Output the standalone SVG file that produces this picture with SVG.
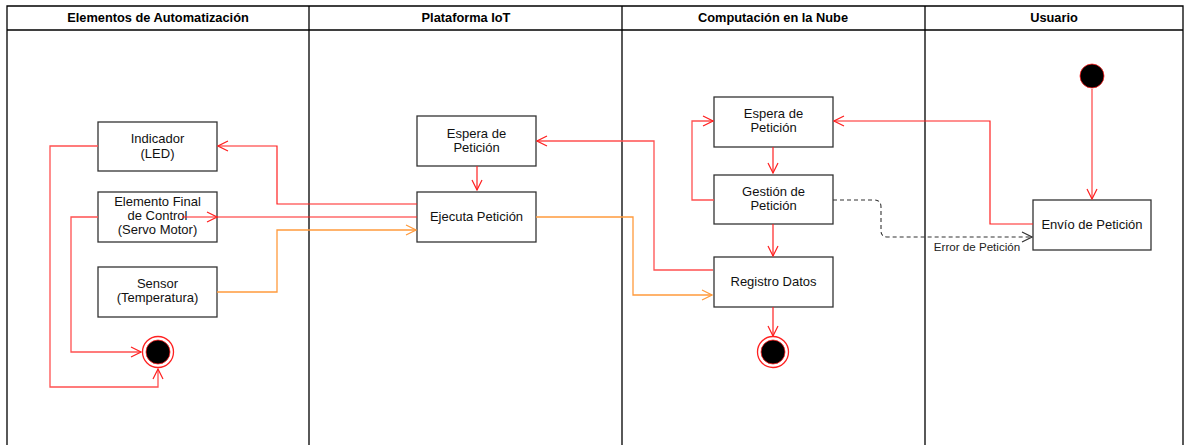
<svg xmlns="http://www.w3.org/2000/svg" width="1186" height="445" viewBox="0 0 1186 445">
  <style>
    .lane { fill: none; stroke: #000; stroke-width: 1.3; }
    .hdr { font-family: "Liberation Sans", Arial, sans-serif; font-size: 12.8px; font-weight: bold; fill: #000; text-anchor: middle; }
    .box { fill: #fff; stroke: #333; stroke-width: 1.3; }
    .lbl { font-family: "Liberation Sans", Arial, sans-serif; font-size: 13px; fill: #111; text-anchor: middle; }
    .small { font-family: "Liberation Sans", Arial, sans-serif; font-size: 11.6px; fill: #222; text-anchor: middle; }
    .red { fill: none; stroke: #ff2020; stroke-width: 1.2; }
    .pink { fill: none; stroke: #ff5050; stroke-width: 1.3; }
    .orange { fill: none; stroke: #ff9a3c; stroke-width: 1.3; }
    .dash { fill: none; stroke: #333; stroke-width: 1.1; stroke-dasharray: 4 3; }
  </style>
  <defs>
    <marker id="arrRed" viewBox="0 0 12 12" refX="11" refY="6" markerWidth="12" markerHeight="12" markerUnits="userSpaceOnUse" orient="auto">
      <path d="M1,1 L11,6 L1,11" fill="none" stroke="#ff2020" stroke-width="1.2"/>
    </marker>
    <marker id="arrOrange" viewBox="0 0 12 12" refX="11" refY="6" markerWidth="12" markerHeight="12" markerUnits="userSpaceOnUse" orient="auto">
      <path d="M1,1 L11,6 L1,11" fill="none" stroke="#ff9a3c" stroke-width="1.2"/>
    </marker>
    <marker id="arrDark" viewBox="0 0 12 12" refX="11" refY="6" markerWidth="12" markerHeight="12" markerUnits="userSpaceOnUse" orient="auto">
      <path d="M1,1 L11,6 L1,11" fill="none" stroke="#333" stroke-width="1.2"/>
    </marker>
  </defs>

  <rect width="1186" height="445" fill="#fff"/>

  <!-- swimlanes -->
  <g id="lanes">
    <path class="lane" d="M7,445 V6 H1183 V445 M7,30 H1183 M309,6 V445 M622,6 V445 M925,6 V445"/>
    <text class="hdr" x="158" y="22">Elementos de Automatización</text>
    <text class="hdr" x="466" y="22">Plataforma IoT</text>
    <text class="hdr" x="773" y="22">Computación en la Nube</text>
    <text class="hdr" x="1054" y="22">Usuario</text>
  </g>

  <!-- Elementos de Automatización -->
  <g id="indicador">
    <rect class="box" x="98" y="122" width="119" height="49"/>
    <text class="lbl" x="157.5" y="143">Indicador</text>
    <text class="lbl" x="157.5" y="158">(LED)</text>
  </g>
  <g id="elemento-final">
    <rect class="box" x="98" y="192" width="119" height="50"/>
    <text class="lbl" x="157.5" y="206">Elemento Final</text>
    <text class="lbl" x="157.5" y="220">de Control</text>
    <text class="lbl" x="157.5" y="234">(Servo Motor)</text>
  </g>
  <g id="sensor">
    <rect class="box" x="98" y="267" width="119" height="50"/>
    <text class="lbl" x="157.5" y="288">Sensor</text>
    <text class="lbl" x="157.5" y="302">(Temperatura)</text>
  </g>
  <g id="final-automatizacion">
    <circle cx="158" cy="352" r="15.5" fill="#fff" stroke="#ff2020" stroke-width="1.3"/>
    <circle cx="158" cy="352" r="12" fill="#000" stroke="#ff2020" stroke-width="0.8"/>
  </g>

  <!-- Plataforma IoT -->
  <g id="espera-iot">
    <rect class="box" x="417" y="116" width="119" height="50"/>
    <text class="lbl" x="476.5" y="138">Espera de</text>
    <text class="lbl" x="476.5" y="152">Petición</text>
  </g>
  <g id="ejecuta">
    <rect class="box" x="417" y="192" width="119" height="50"/>
    <text class="lbl" x="476.5" y="221">Ejecuta Petición</text>
  </g>

  <!-- Computación en la Nube -->
  <g id="espera-nube">
    <rect class="box" x="714" y="97" width="119" height="50"/>
    <text class="lbl" x="773.5" y="118">Espera de</text>
    <text class="lbl" x="773.5" y="132">Petición</text>
  </g>
  <g id="gestion">
    <rect class="box" x="714" y="175" width="119" height="49"/>
    <text class="lbl" x="773.5" y="196">Gestión de</text>
    <text class="lbl" x="773.5" y="210">Petición</text>
  </g>
  <g id="registro">
    <rect class="box" x="714" y="257" width="119" height="50"/>
    <text class="lbl" x="773.5" y="286">Registro Datos</text>
  </g>
  <g id="final-nube">
    <circle cx="773" cy="352" r="15.5" fill="#fff" stroke="#ff2020" stroke-width="1.3"/>
    <circle cx="773" cy="352" r="12" fill="#000" stroke="#ff2020" stroke-width="0.8"/>
  </g>

  <!-- Usuario -->
  <g id="inicio">
    <circle cx="1092" cy="76" r="12" fill="#000" stroke="#ff2020" stroke-width="0.8"/>
  </g>
  <g id="envio">
    <rect class="box" x="1033" y="200" width="118" height="50"/>
    <text class="lbl" x="1092" y="229">Envío de Petición</text>
  </g>

  <!-- connectors -->
  <g id="connectors">
    <!-- Indicador to final node (from below) -->
    <path class="pink" d="M98,146 H50 V387 H158 V369" marker-end="url(#arrRed)"/>
    <!-- Elemento Final to final node -->
    <path class="pink" d="M98,217 H71 V352 H141" marker-end="url(#arrRed)"/>
    <!-- Ejecuta Petición / Elemento Final link, crossing into the box -->
    <path class="red" d="M417,217 H217"/>
    <path class="red" d="M182,217 H217" marker-end="url(#arrRed)"/>
    <!-- Ejecuta Petición to Indicador -->
    <path class="red" d="M417,204 H277 V146 H218" marker-end="url(#arrRed)"/>
    <!-- Sensor to Ejecuta Petición -->
    <path class="orange" d="M217,292 H277 V230 H416" marker-end="url(#arrOrange)"/>
    <!-- Espera to Ejecuta (IoT) -->
    <path class="red" d="M477,166 V190" marker-end="url(#arrRed)"/>
    <!-- Ejecuta Petición to Registro Datos -->
    <path class="orange" d="M536,217 H633 V295 H712" marker-end="url(#arrOrange)"/>
    <!-- Registro Datos to Espera (IoT) -->
    <path class="pink" d="M713,270 H654 V141 H537" marker-end="url(#arrRed)"/>
    <!-- cloud flow -->
    <path class="red" d="M773,147 V173" marker-end="url(#arrRed)"/>
    <path class="red" d="M773,224 V256" marker-end="url(#arrRed)"/>
    <path class="red" d="M773,307 V336" marker-end="url(#arrRed)"/>
    <path class="pink" d="M714,200 H692 V121 H713" marker-end="url(#arrRed)"/>
    <!-- Envío de Petición to Espera (cloud) -->
    <path class="red" d="M1033,224 H990 V121 H834" marker-end="url(#arrRed)"/>
    <!-- initial node to Envío -->
    <path class="pink" d="M1092,89 V199" marker-end="url(#arrRed)"/>
    <!-- error path -->
    <path class="dash" d="M833,200 H874 Q881,200 881,207 V231 Q881,237 888,237 H1032" marker-end="url(#arrDark)"/>
    <text class="small" x="977" y="251">Error de Petición</text>
  </g>
</svg>
